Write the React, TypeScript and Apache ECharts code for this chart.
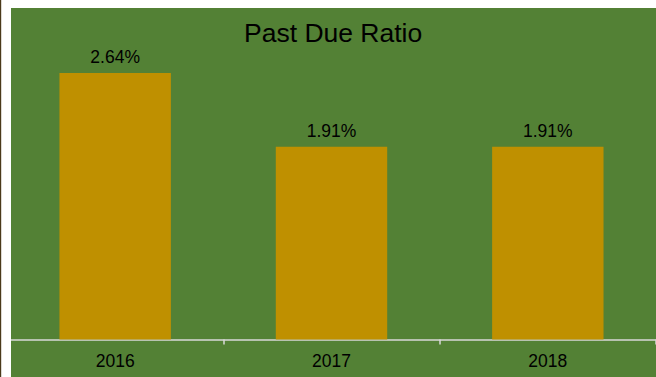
import React, { useEffect, useRef } from "react";
import * as echarts from "echarts";

const categories = ["2016", "2017", "2018"];
const pastDueRatio = [2.64, 1.91, 1.91];
const titleText = "Past Due Ratio";

const FONT = "'Liberation Sans', Arial, sans-serif";

export default function App() {
  const ref = useRef<HTMLDivElement>(null);

  useEffect(() => {
    if (!ref.current) return;
    const chart = echarts.init(ref.current, undefined, { renderer: "svg" });
    chart.setOption({
      animation: false,
      backgroundColor: "#538135",
      graphic: [
        {
          type: "rect",
          z: 100,
          shape: { x: 0, y: 0, width: 656, height: 8 },
          style: { fill: "#ffffff" },
        },
        {
          type: "rect",
          z: 100,
          shape: { x: 0, y: 0, width: 11, height: 377 },
          style: { fill: "#ffffff" },
        },
        {
          type: "rect",
          z: 101,
          shape: { x: 0, y: 0, width: 1.2, height: 377 },
          style: { fill: "#4a3a1a" },
        },
      ],
      title: {
        text: titleText,
        left: 244,
        top: 19,
        padding: 0,
        textStyle: {
          fontFamily: FONT,
          fontSize: 26.5,
          fontWeight: "normal",
          color: "#000000",
        },
      },
      grid: {
        left: 7,
        width: 654,
        top: 36.65,
        bottom: 37.5,
        containLabel: false,
      },
      xAxis: {
        type: "category",
        data: categories,
        axisLine: { show: true, lineStyle: { color: "#d9d9d9", width: 1.5 } },
        axisTick: { show: true, length: 5, lineStyle: { color: "#d9d9d9", width: 1.5 } },
        axisLabel: {
          fontFamily: FONT,
          fontSize: 17.5,
          color: "#000000",
          margin: 12,
        },
      },
      yAxis: {
        type: "value",
        min: 0,
        max: 3,
        show: false,
        splitLine: { show: false },
      },
      series: [
        {
          type: "bar",
          data: pastDueRatio,
          barWidth: "51.5%",
          itemStyle: { color: "#bf9000" },
          label: {
            show: true,
            position: "top",
            distance: 7,
            fontFamily: FONT,
            fontSize: 17.5,
            color: "#000000",
            formatter: (p: any) => p.value.toFixed(2) + "%",
          },
        },
      ],
    });
    return () => chart.dispose();
  }, []);

  return (
    <div
      ref={ref}
      style={{ position: "absolute", left: 0, top: 0, width: 656, height: 377 }}
    />
  );
}
